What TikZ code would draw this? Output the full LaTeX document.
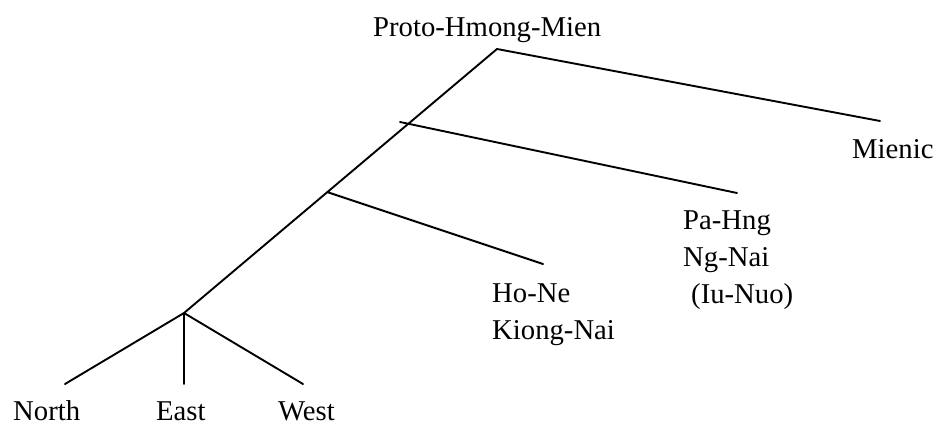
\documentclass[tikz,border=0pt]{standalone}
\usepackage{fontspec}
\setmainfont{Liberation Serif}
\begin{document}
\begin{tikzpicture}[x=1pt, y=-1pt, line join=round, line cap=round,
	lbl/.style={anchor=base west, inner sep=0pt, font=\fontsize{28.7}{37}\selectfont}]
	\useasboundingbox (0,0) rectangle (935,423);
	% Vertices
	\coordinate (top) at (497,49);
	\coordinate (mien) at (880,121);
	\coordinate (pa0) at (400,122); \coordinate (pa1) at (737,193);
	\coordinate (ho0) at (327,192); \coordinate (ho1) at (543,264);
	\coordinate (hm) at (184,313);
	\coordinate (n) at (65,384); \coordinate (e) at (184,384); \coordinate (w) at (303,384);
	% Labels
	\node[lbl] (phm) at (373,36) {Proto-Hmong-Mien};
	\node[lbl] (mienic) at (852,158) {Mienic};
	\node[lbl] (pahng) at (683,229) {Pa-Hng};
	\node[lbl] (ngnai) at (683,266) {Ng-Nai};
	\node[lbl] (iunuo) at (691,303) {(Iu-Nuo)};
	\node[lbl] (hone) at (492,302) {Ho-Ne};
	\node[lbl] (kiong) at (492,339) {Kiong-Nai};
	\node[lbl] (north) at (13,420) {North};
	\node[lbl] (east) at (156,420) {East};
	\node[lbl] (west) at (278,420) {West};
	% Tree
	\draw[line width=1.9pt] (hm)--(top)--(mien) (pa0)--(pa1) (ho0)--(ho1)
		(hm)--(n) (hm)--(e) (hm)--(w);
\end{tikzpicture}
\end{document}
